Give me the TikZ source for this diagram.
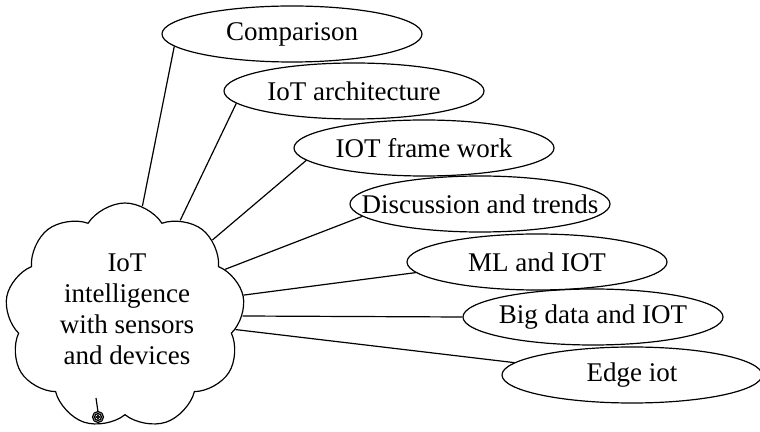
\documentclass[tikz,border=0pt]{standalone}
\usepackage{fontspec}
\setmainfont{Liberation Serif}
\usetikzlibrary{shapes}

\begin{document}
\begin{tikzpicture}[x=0.5pt,y=-0.5pt,line width=0.6pt,
    topic/.style={ellipse,draw,minimum width=130pt,minimum height=28pt,inner sep=0pt,
      font=\fontsize{13.5}{15.5}\selectfont},
    hubcloud/.style={cloud,draw,cloud puffs=9,cloud puff arc=115,cloud ignores aspect,
      minimum width=120pt,minimum height=113pt,inner sep=0pt}]
    \useasboundingbox (0,0) rectangle (760,432);
    \node[hubcloud] (hub) at (125,316) {};
    \node[align=center,font=\fontsize{13.5}{15.5}\selectfont] (hubtext) at (127,309)
      {IoT\\intelligence\\with sensors\\and devices};
    \node[topic] (comp) at (292,34) {\makebox[0pt]{Comparison}};
    \node[topic] (arch) at (354,91) {\makebox[0pt]{IoT architecture}};
    \node[topic] (frame) at (424,148) {\makebox[0pt]{IOT frame work}};
    \node[topic] (disc) at (480,204) {\makebox[0pt]{Discussion and trends}};
    \node[topic] (ml) at (537,262) {\makebox[0pt]{ML and IOT}};
    \node[topic] (big) at (593,317) {\makebox[0pt]{Big data and IOT}};
    \node[topic] (edge) at (632,375) {\makebox[0pt]{Edge iot}};
    \draw (comp.186) -- (hub.81);
    \draw (arch.186) -- (hub.60);
    \draw (frame.186) -- (hub.41);
    \draw (disc.186) -- (hub.25);
    \draw (ml.185) -- (hub.10);
    \draw (big.180) -- (hub.0);
    \draw (edge.174) -- (hub.-7);
    % little tail at the bottom
    \draw (96,398) -- (98,412);
    \draw (98,417) circle (5.5) circle (3.5) circle (1.5);
  \end{tikzpicture}
\end{document}
